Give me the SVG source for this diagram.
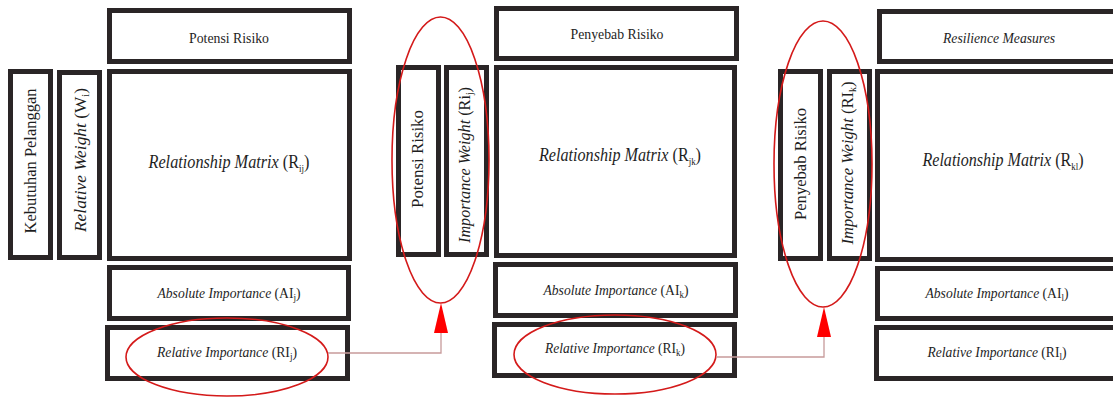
<svg xmlns="http://www.w3.org/2000/svg" width="1113" height="397" viewBox="0 0 1113 397">
  <style>
    .box { fill: #ffffff; stroke: #2a2526; stroke-width: 5; }
    .hl { fill: none; stroke: #d41a1a; stroke-width: 1.6; }
    .link { fill: none; stroke: #c79a9a; stroke-width: 1.3; }
    .head { fill: #ff0000; }
    .lbl { font-family: Liberation Serif, Tinos, Times New Roman, Times, serif; fill: #1e1e1e; text-anchor: middle; }
    .t15 { font-size: 15px; }
    .t17 { font-size: 17px; }
    .t18 { font-size: 18px; }
    .it { font-style: italic; }
    .sub { font-size: 10px; }
  </style>
  <rect width="1113" height="397" fill="#ffffff"/>

  <!-- Section 1: customer needs vs. risk potentials -->
  <g id="s1-header">
    <rect class="box" x="109.5" y="10.5" width="240" height="51"/>
    <text class="lbl t15" x="229" y="43" textLength="80" lengthAdjust="spacingAndGlyphs">Potensi Risiko</text>
  </g>
  <g id="s1-rows">
    <rect class="box" x="10.5" y="71.5" width="40" height="186"/>
    <text class="lbl t17" transform="translate(36,161) rotate(-90)" textLength="145" lengthAdjust="spacingAndGlyphs">Kebutuhan Pelanggan</text>
  </g>
  <g id="s1-weight">
    <rect class="box" x="59.5" y="72.5" width="40" height="185"/>
    <text class="lbl t17" transform="translate(86,160) rotate(-90)" textLength="144" lengthAdjust="spacingAndGlyphs"><tspan class="it">Relative Weight</tspan> (W<tspan class="sub" baseline-shift="-3">i</tspan>)</text>
  </g>
  <g id="s1-matrix">
    <rect class="box" x="109.5" y="71.5" width="240" height="187"/>
    <text class="lbl t18" x="229" y="168" textLength="161" lengthAdjust="spacingAndGlyphs"><tspan class="it">Relationship Matrix</tspan> (R<tspan class="sub" baseline-shift="-4">ij</tspan>)</text>
  </g>
  <g id="s1-absolute">
    <rect class="box" x="109.5" y="267.5" width="239" height="51"/>
    <text class="lbl t15" x="229" y="298" textLength="143" lengthAdjust="spacingAndGlyphs"><tspan class="it">Absolute Importance</tspan> (AI<tspan class="sub" baseline-shift="-3">j</tspan>)</text>
  </g>
  <g id="s1-relative">
    <rect class="box" x="107.5" y="327.5" width="240" height="51"/>
    <text class="lbl t15" x="227" y="357" textLength="140" lengthAdjust="spacingAndGlyphs"><tspan class="it">Relative Importance</tspan> (RI<tspan class="sub" baseline-shift="-3">j</tspan>)</text>
  </g>

  <!-- Section 2: risk potentials vs. risk causes -->
  <g id="s2-rows">
    <rect class="box" x="398.5" y="67.5" width="40" height="187"/>
    <text class="lbl t17" transform="translate(423,159) rotate(-90)" textLength="98" lengthAdjust="spacingAndGlyphs">Potensi Risiko</text>
  </g>
  <g id="s2-weight">
    <rect class="box" x="446.5" y="67.5" width="40" height="187"/>
    <text class="lbl t17" transform="translate(470,165) rotate(-90)" textLength="156" lengthAdjust="spacingAndGlyphs"><tspan class="it">Importance Weight</tspan> (Ri<tspan class="sub" baseline-shift="-3">j</tspan>)</text>
  </g>
  <g id="s2-header">
    <rect class="box" x="496.5" y="8.5" width="240" height="50"/>
    <text class="lbl t15" x="617" y="39" textLength="93" lengthAdjust="spacingAndGlyphs">Penyebab Risiko</text>
  </g>
  <g id="s2-matrix">
    <rect class="box" x="496.5" y="67.5" width="238" height="188"/>
    <text class="lbl t18" x="620" y="161" textLength="162" lengthAdjust="spacingAndGlyphs"><tspan class="it">Relationship Matrix</tspan> (R<tspan class="sub" baseline-shift="-4">jk</tspan>)</text>
  </g>
  <g id="s2-absolute">
    <rect class="box" x="495.5" y="264.5" width="240" height="51"/>
    <text class="lbl t15" x="616" y="295" textLength="145" lengthAdjust="spacingAndGlyphs"><tspan class="it">Absolute Importance</tspan> (AI<tspan class="sub" baseline-shift="-3">k</tspan>)</text>
  </g>
  <g id="s2-relative">
    <rect class="box" x="494.5" y="324.5" width="240" height="51"/>
    <text class="lbl t15" x="615" y="353" textLength="140" lengthAdjust="spacingAndGlyphs"><tspan class="it">Relative Importance</tspan> (RI<tspan class="sub" baseline-shift="-3">k</tspan>)</text>
  </g>

  <!-- Section 3: risk causes vs. resilience measures -->
  <g id="s3-rows">
    <rect class="box" x="780.5" y="71.5" width="40" height="187"/>
    <text class="lbl t17" transform="translate(806,164) rotate(-90)" textLength="112" lengthAdjust="spacingAndGlyphs">Penyebab Risiko</text>
  </g>
  <g id="s3-weight">
    <rect class="box" x="829.5" y="71.5" width="40" height="187"/>
    <text class="lbl t17" transform="translate(853,163) rotate(-90)" textLength="163" lengthAdjust="spacingAndGlyphs"><tspan class="it">Importance Weight</tspan> (RI<tspan class="sub" baseline-shift="-3">k</tspan>)</text>
  </g>
  <g id="s3-header">
    <rect class="box" x="879.5" y="11.5" width="240" height="50"/>
    <text class="lbl t15 it" x="999" y="43" textLength="112" lengthAdjust="spacingAndGlyphs">Resilience Measures</text>
  </g>
  <g id="s3-matrix">
    <rect class="box" x="877.5" y="71.5" width="240" height="188"/>
    <text class="lbl t18" x="1003" y="166" textLength="161" lengthAdjust="spacingAndGlyphs"><tspan class="it">Relationship Matrix</tspan> (R<tspan class="sub" baseline-shift="-4">kl</tspan>)</text>
  </g>
  <g id="s3-absolute">
    <rect class="box" x="877.5" y="268.5" width="240" height="50"/>
    <text class="lbl t15" x="997" y="298" textLength="143" lengthAdjust="spacingAndGlyphs"><tspan class="it">Absolute Importance</tspan> (AI<tspan class="sub" baseline-shift="-3">l</tspan>)</text>
  </g>
  <g id="s3-relative">
    <rect class="box" x="876.5" y="327.5" width="240" height="51"/>
    <text class="lbl t15" x="997" y="357" textLength="139" lengthAdjust="spacingAndGlyphs"><tspan class="it">Relative Importance</tspan> (RI<tspan class="sub" baseline-shift="-3">l</tspan>)</text>
  </g>

  <!-- highlight rings -->
  <g id="highlights">
    <ellipse class="hl" cx="227" cy="357" rx="101" ry="39"/>
    <ellipse class="hl" cx="440.5" cy="160" rx="48.5" ry="143"/>
    <ellipse class="hl" cx="615" cy="354.5" rx="101" ry="39.5"/>
    <ellipse class="hl" cx="823" cy="164" rx="49" ry="143"/>
  </g>

  <!-- connectors carrying relative importance into the next weight column -->
  <g id="connectors">
    <path class="link" d="M328,353 H441 V333"/>
    <polygon class="head" points="441,303 434,333 448,333"/>
    <path class="link" d="M716,357 H824 V337"/>
    <polygon class="head" points="824,307 817,337 831,337"/>
  </g>
</svg>
